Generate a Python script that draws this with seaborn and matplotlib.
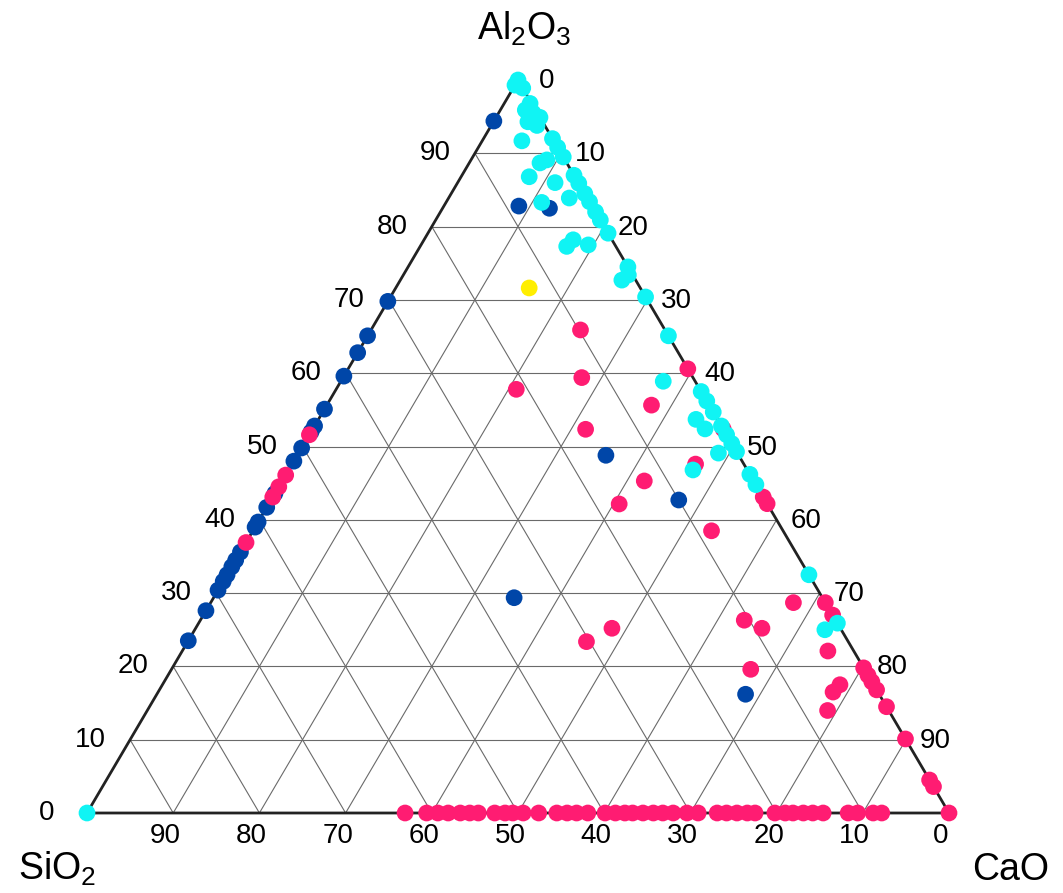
import matplotlib
matplotlib.use("Agg")
import matplotlib.pyplot as plt
import seaborn as sns
import pandas as pd

sns.set_theme(style="white")
plt.rcParams["font.family"] = ["Liberation Sans", "DejaVu Sans"]
plt.rcParams["mathtext.default"] = "regular"
plt.rcParams["text.color"] = "black"

# ---------------- data (wt %: SiO2, CaO, Al2O3) ----------------
BLUE_SIO2 = [5.6, 30.2, 34.9, 37.2, 40.4, 44.9, 47.2, 48.0, 50.2, 52.0, 56.4, 58.3, 60.3, 61.0,
             64.4, 65.5, 66.4, 67.5, 68.4, 69.6, 72.4, 76.5, 8.5, 5.1, 15.4, 10.0, 35.8, 15.5]
BLUE_CAO = [0, 0, 0, 0, 0, 0, 0, 0, 0, 0, 0, 0, 0, 0,
            0, 0, 0, 0, 0, 0, 0, 0, 8.7, 12.4, 35.8, 47.3, 34.9, 68.3]
BLUE_AL2O3 = [94.4, 69.8, 65.1, 62.8, 59.6, 55.1, 52.8, 52.0, 49.8, 48.0, 43.6, 41.7, 39.7, 39.0,
              35.6, 34.5, 33.6, 32.5, 31.6, 30.4, 27.6, 23.5, 82.8, 82.5, 48.8, 42.7, 29.4, 16.2]

PINK_SIO2 = [48.4, 53.9, 55.5, 56.9, 63.1,
             9.8, 12.9, 21.3, 0, 6.7, 16.0, 12.7, 17.2, 8.3, 5.6, 0, 0, 0, 3.7, 0, 0, 10.6, 9.1,
             3.0, 13.2, 0, 0, 0, 0, 3.9, 5.2, 0, 7.1, 0, 0, 0, 26.5, 30.4,
             63.1, 60.6, 59.3, 58.1, 56.7, 55.6, 54.6, 52.7, 51.5, 50.6, 49.4, 47.6, 45.5, 44.3,
             43.2, 41.9, 39.9, 38.7, 37.6, 36.7, 35.5, 34.3, 33.2, 32.0, 30.4, 29.1, 26.9, 25.8,
             24.6, 23.4, 22.5, 20.2, 19.0, 18.1, 16.9, 15.8, 14.6, 11.7, 10.6, 8.8, 7.8, 0.0]
PINK_CAO = [0, 0, 0, 0, 0,
            24.3, 27.7, 20.9, 39.4, 37.7, 31.7, 42.0, 40.7, 53.2, 46.8, 56.9, 57.8, 47.6, 67.6,
            71.3, 73.0, 63.1, 65.7, 74.9, 67.2, 80.2, 81.2, 82.1, 83.2, 78.6, 78.3, 85.5, 79.0,
            89.9, 95.5, 96.4, 48.3, 46.3,
            36.9, 39.4, 40.7, 41.9, 43.3, 44.4, 45.4, 47.3, 48.5, 49.4, 50.6, 52.4, 54.5, 55.7,
            56.8, 58.1, 60.1, 61.3, 62.4, 63.3, 64.5, 65.7, 66.8, 68.0, 69.6, 70.9, 73.1, 74.2,
            75.4, 76.6, 77.5, 79.8, 81.0, 81.9, 83.1, 84.2, 85.4, 88.3, 89.4, 91.2, 92.2, 100.0]
PINK_AL2O3 = [51.6, 46.1, 44.5, 43.1, 36.9,
              65.9, 59.4, 57.8, 60.6, 55.7, 52.4, 45.3, 42.2, 38.5, 47.6, 43.1, 42.2, 52.4, 28.7,
              28.7, 27.0, 26.3, 25.2, 22.1, 19.6, 19.8, 18.8, 17.9, 16.8, 17.5, 16.5, 14.5, 14.0,
              10.1, 4.5, 3.6, 25.2, 23.4,
              0, 0, 0, 0, 0, 0, 0, 0, 0, 0, 0, 0, 0, 0,
              0, 0, 0, 0, 0, 0, 0, 0, 0, 0, 0, 0, 0, 0,
              0, 0, 0, 0, 0, 0, 0, 0, 0, 0, 0, 0, 0, 0]

CYAN_SIO2 = [0, 0.7, 0, 0.2, 1.2, 0.5, 0, 1.7, 0.9, 3.7, 0, 0, 0, 2.1, 3.1, 5.3, 2.7, 0, 0, 0,
             0, 0, 0, 0, 2.1, 5.6, 4.5, 5.7, 3.1, 0, 0.5, 1.6, 0, 0, 3.7, 0, 0, 0, 2.5, 2.1,
             0, 0, 0, 0, 2.2, 6.3, 0, 0, 0, 0, 1.9, 100]
CYAN_CAO = [0, 0, 1.1, 3.0, 2.9, 4.0, 5.1, 4.0, 5.3, 4.6, 8.0, 9.2, 10.5, 8.8, 8.2, 7.9, 11.3,
            13.0, 14.1, 15.5, 16.6, 18.0, 19.1, 20.9, 14.0, 11.1, 17.3, 17.0, 19.4, 25.5, 26.1,
            25.7, 29.6, 34.9, 37.4, 42.5, 43.8, 45.3, 43.8, 45.5, 47.2, 48.4, 49.6, 50.7, 48.7,
            46.9, 53.8, 55.2, 67.5, 74.1, 73.1, 0]
CYAN_AL2O3 = [100, 99.3, 98.9, 96.8, 95.9, 95.5, 94.9, 94.3, 93.8, 91.7, 92.0, 90.8, 89.5, 89.1,
              88.6, 86.8, 86.0, 87.0, 85.9, 84.5, 83.4, 82.0, 80.9, 79.1, 83.9, 83.3, 78.2, 77.3,
              77.5, 74.5, 73.4, 72.7, 70.4, 65.1, 58.9, 57.5, 56.2, 54.7, 53.7, 52.4, 52.8, 51.6,
              50.4, 49.3, 49.1, 46.8, 46.2, 44.8, 32.5, 25.9, 25.0, 0]

YELLOW_SIO2 = [12.9]
YELLOW_CAO = [15.5]
YELLOW_AL2O3 = [71.7]

TICKS = [0, 10, 20, 30, 40, 50, 60, 70, 80, 90]
COLORS = {"blue": "#0046A8", "pink": "#FF1C72", "cyan": "#10F4F4", "yellow": "#FFEE00"}

# ---------------- build table ----------------
frames = []
for name, s, c, a in [("blue", BLUE_SIO2, BLUE_CAO, BLUE_AL2O3),
                      ("pink", PINK_SIO2, PINK_CAO, PINK_AL2O3),
                      ("cyan", CYAN_SIO2, CYAN_CAO, CYAN_AL2O3),
                      ("yellow", YELLOW_SIO2, YELLOW_CAO, YELLOW_AL2O3)]:
    d = pd.DataFrame({"SiO2": s, "CaO": c, "Al2O3": a})
    d["group"] = name
    frames.append(d)
df = pd.concat(frames, ignore_index=True)
tot = df["SiO2"] + df["CaO"] + df["Al2O3"]
df["x"] = (df["CaO"] + df["Al2O3"] / 2) / tot
df["y"] = df["Al2O3"] / tot

# ---------------- figure / layout ----------------
W, H = 1063, 893
L_PX, R_PX, BASE_PX, TOP_PX = 87, 949, 813, 80
fig = plt.figure(figsize=(W / 100, H / 100), dpi=100)
ax = fig.add_axes([0, 0, 1, 1])
span_x = R_PX - L_PX
span_y = BASE_PX - TOP_PX
ax.set_xlim(-L_PX / span_x, (W - L_PX) / span_x)
ax.set_ylim(-(H - BASE_PX) / span_y, BASE_PX / span_y)
ax.axis("off")

grid_kw = dict(color="#6a6a6a", lw=0.8, zorder=1)
for k in range(1, 10):
    f = k / 10
    ax.plot([f / 2, 1 - f / 2], [f, f], **grid_kw)
    ax.plot([(1 + f) / 2, f], [1 - f, 0], **grid_kw)
    ax.plot([(1 - f) / 2, 1 - f], [1 - f, 0], **grid_kw)
ax.plot([0, 1, 0.5, 0], [0, 0, 1, 0], color="#222222", lw=2.0, zorder=2,
        solid_joinstyle="miter")

sns.scatterplot(data=df, x="x", y="y", hue="group", palette=COLORS,
                hue_order=["blue", "pink", "cyan", "yellow"],
                s=145, linewidth=0, legend=False, ax=ax, zorder=3)
ax.set_xlabel("")
ax.set_ylabel("")

fs = 20
for v in TICKS:
    f = v / 100
    # Al2O3 on left edge
    ax.annotate(str(v), (f / 2, f), xytext=(-40, 0), textcoords="offset pixels",
                ha="center", va="center", fontsize=fs, color="black")
    # CaO on right edge
    ax.annotate(str(v), (f + (1 - f) / 2, 1 - f), xytext=(29, -1), textcoords="offset pixels",
                ha="center", va="center", fontsize=fs, color="black")
    # SiO2 on bottom edge
    ax.annotate(str(v), (1 - f, 0), xytext=(-8, -23), textcoords="offset pixels",
                ha="center", va="center", fontsize=fs, color="black")

fig.text(524 / W, 1 - 40 / H, "Al$_2$O$_3$", ha="center", va="baseline", fontsize=27, color="black")
fig.text(57 / W, 1 - 880 / H, "SiO$_2$", ha="center", va="baseline", fontsize=27, color="black")
fig.text(1011 / W, 1 - 880 / H, "CaO", ha="center", va="baseline", fontsize=27, color="black")

fig.savefig("out.png", dpi=100, facecolor="white")
